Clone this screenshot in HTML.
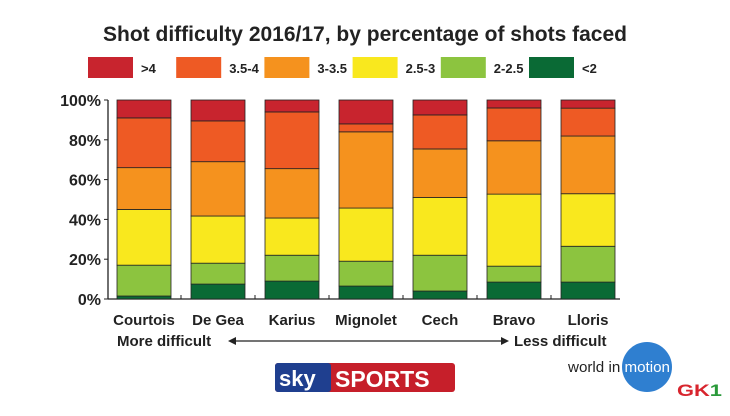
<!DOCTYPE html>
<html><head><meta charset="utf-8">
<style>
body{margin:0;background:#fff;width:730px;height:411px;overflow:hidden;font-family:"Liberation Sans",sans-serif;}
svg text{font-family:"Liberation Sans",sans-serif;}
</style></head><body>
<svg width="730" height="411" viewBox="0 0 730 411">
<text x="365" y="41" text-anchor="middle" font-size="21" font-weight="bold" fill="#222">Shot difficulty 2016/17, by percentage of shots faced</text>
<g id="legend"></g>
<g id="axis"></g>
<g id="bars"></g>
<g id="xlabels"></g>
<text x="117" y="346" font-size="15" font-weight="bold" fill="#222">More difficult</text>
<line x1="232" y1="341" x2="505" y2="341" stroke="#222" stroke-width="1.2"/>
<polygon points="228,341 236,337 236,345" fill="#222"/>
<polygon points="509,341 501,337 501,345" fill="#222"/>
<text x="514" y="346" font-size="15" font-weight="bold" fill="#222">Less difficult</text>
<g>
<rect x="275" y="363" width="180" height="29" rx="3" fill="#c61f2a"/>
<rect x="275" y="363" width="56" height="29" rx="3" fill="#1f3f8f"/>
<text x="279" y="386" font-size="22" font-weight="bold" fill="#fff">sky</text>
<text x="335" y="387" font-size="23" font-weight="bold" fill="#fff">SPORTS</text>
</g>
<g>
<circle cx="647" cy="367" r="25" fill="#2f7fd0"/>
<text x="568" y="372" font-size="15" fill="#222" textLength="102" lengthAdjust="spacingAndGlyphs">world in <tspan fill="#fff">motion</tspan></text>
<text x="677" y="396" font-size="17" font-weight="bold" fill="#d8252e" textLength="45" lengthAdjust="spacingAndGlyphs">GK<tspan fill="#2a9a3a">1</tspan></text>
</g>
</svg>
<script>
const players=["Courtois","De Gea","Karius","Mignolet","Cech","Bravo","Lloris"];
const catLabels=[">4","3.5-4","3-3.5","2.5-3","2-2.5","<2"];
const colors=["#c8242e","#ee5a24","#f5921e","#f9e81e","#8cc43f","#0a6a35"];
// band sizes (%) for <2, 2-2.5, 2.5-3, 3-3.5, 3.5-4 ; >4 fills to 100
const lt2=[1.5,7.5,9,6.5,4,8.5,8.5];
const lt25=[15.5,10.5,13,12.5,18,8,18];
const lt3=[28,23.7,18.7,26.7,29,36.2,26.4];
const lt35=[21,27.3,24.8,38.3,24.4,26.8,29];
const lt4=[25,20.5,28.5,4,17.1,16.5,14];
const yTicks=[0,20,40,60,80,100];
const NS="http://www.w3.org/2000/svg";
const y0=299,y1=100,x0=117,step=74,bw=54;
function ys(v){return y0-(y0-y1)*v/100;}
function xs(i){return x0+i*step;}
function mk(p,tag,a){const e=document.createElementNS(NS,tag);for(const k in a)e.setAttribute(k,a[k]);p.appendChild(e);return e;}
const ax=document.getElementById('axis');
mk(ax,'line',{x1:108,y1:y1,x2:108,y2:y0,stroke:'#222','stroke-width':1.3});
mk(ax,'line',{x1:108,y1:y0,x2:620,y2:y0,stroke:'#222','stroke-width':1.3});
yTicks.forEach(t=>{
 const l=mk(ax,'line',{x1:104,y1:ys(t),x2:108,y2:ys(t),stroke:'#222'});
 
 
 const tx=mk(ax,'text',{x:101,y:ys(t)+6,'text-anchor':'end','font-size':16,'font-weight':'bold',fill:'#222'});
 tx.textContent=t+'%';
 
 
});
players.forEach((p,i)=>{ if(i>0){const m=mk(ax,'line',{x1:xs(i)-10,y1:y0,x2:xs(i)-10,y2:y0-4,stroke:'#222'});
 
 }});
const bars=document.getElementById('bars');
players.forEach((p,i)=>{
 const vals=[lt2[i],lt25[i],lt3[i],lt35[i],lt4[i]];
 let c=0;
 const segs=vals.map(v=>{const s=[c,c+v];c+=v;return s;});
 segs.push([c,100]);
 segs.forEach((s,j)=>{
  const r=mk(bars,'rect',{x:xs(i),y:ys(s[1]),width:bw,height:Math.max(0,ys(s[0])-ys(s[1])),fill:colors[5-j],stroke:'#222','stroke-width':0.8});
  
  
 });
 const t=mk(document.getElementById('xlabels'),'text',{x:xs(i)+bw/2,y:325,'text-anchor':'middle','font-size':15,'font-weight':'bold',fill:'#222'});
 t.textContent=p;
 
 
});
const lg=document.getElementById('legend');
catLabels.forEach((c,i)=>{
 const bx=88+i*88.2;
 const r=mk(lg,'rect',{x:bx,y:57,width:45,height:21,fill:colors[i]});
 
 
 const t=mk(lg,'text',{x:bx+53,y:73,'font-size':13,'font-weight':'bold',fill:'#222'});
 t.textContent=c;
 
 
});
</script>
</body></html>
